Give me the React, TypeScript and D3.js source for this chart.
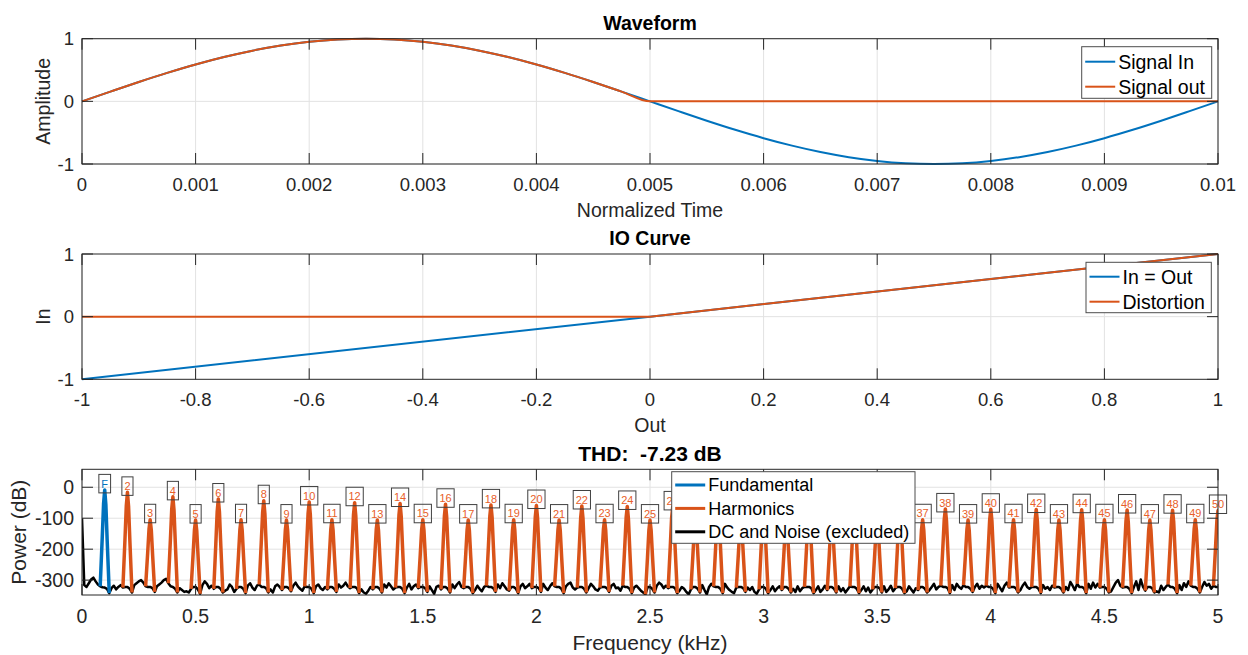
import React, { useEffect, useRef } from "react";
import * as d3 from "d3";

const BLUE = "#0072BD";
const ORANGE = "#D95319";
const AXIS = "#262626";
const GRID = "#e2e2e2";
const FONT = "'Liberation Sans', Arial, Helvetica, sans-serif";

// ---- Waveform (one period, sampled every 0.25 ms) ----
const waveStep = 0.00025;
const signalIn = [
  0, 0.156, 0.309, 0.454, 0.588, 0.707, 0.809, 0.891, 0.951, 0.988, 1,
  0.988, 0.951, 0.891, 0.809, 0.707, 0.588, 0.454, 0.309, 0.156, 0,
  -0.156, -0.309, -0.454, -0.588, -0.707, -0.809, -0.891, -0.951, -0.988, -1,
  -0.988, -0.951, -0.891, -0.809, -0.707, -0.588, -0.454, -0.309, -0.156, 0,
];
const signalOut = [
  0, 0.156, 0.309, 0.454, 0.588, 0.707, 0.809, 0.891, 0.951, 0.988, 1,
  0.988, 0.951, 0.891, 0.809, 0.707, 0.588, 0.454, 0.309, 0.156, 0,
  0, 0, 0, 0, 0, 0, 0, 0, 0, 0, 0, 0, 0, 0, 0, 0, 0, 0, 0, 0,
];
const waveTicksX = [0, 0.001, 0.002, 0.003, 0.004, 0.005, 0.006, 0.007, 0.008, 0.009, 0.01];
const unitTicksY = [-1, 0, 1];

// ---- IO curve ----
const ioOut = [-1, 0, 1];
const ioLinear = [-1, 0, 1];
const ioDistortion = [0, 0, 1];
const ioTicksX = [-1, -0.8, -0.6, -0.4, -0.2, 0, 0.2, 0.4, 0.6, 0.8, 1];

// ---- Spectrum ----
const noiseStep = 0.01; // kHz
const noiseFloor = [
  -100, -316, -322, -310, -298, -292, -304, -314, -320, -323,
  -324, -328, -342, -326, -318, -330, -322, -316, -324, -322,
  -322, -328, -340, -316, -310, -304, -300, -308, -320, -322,
  -322, -326, -338, -320, -314, -308, -300, -296, -310, -320,
  -322, -328, -340, -326, -332, -338, -336, -340, -328, -322,
  -322, -330, -344, -316, -304, -312, -326, -318, -328, -322,
  -322, -328, -340, -334, -330, -314, -322, -338, -328, -322,
  -322, -328, -342, -318, -310, -324, -332, -318, -314, -322,
  -322, -326, -340, -330, -340, -320, -314, -322, -332, -322,
  -322, -326, -336, -318, -308, -320, -328, -334, -320, -322,
  -322, -328, -342, -320, -314, -326, -332, -322, -330, -322,
  -322, -328, -338, -314, -324, -318, -308, -320, -326, -322,
  -322, -326, -342, -330, -340, -344, -334, -322, -330, -322,
  -322, -328, -340, -314, -324, -310, -320, -330, -324, -322,
  -322, -328, -342, -324, -312, -330, -320, -314, -326, -322,
  -322, -326, -338, -320, -332, -344, -322, -318, -330, -322,
  -322, -328, -340, -314, -326, -314, -306, -322, -326, -322,
  -322, -328, -342, -332, -318, -328, -336, -322, -318, -322,
  -322, -326, -338, -314, -326, -310, -320, -330, -334, -322,
  -322, -328, -342, -320, -312, -326, -320, -312, -326, -322,
  -322, -326, -338, -312, -324, -332, -320, -310, -320, -322,
  -322, -328, -342, -320, -312, -308, -324, -330, -324, -322,
  -322, -328, -340, -326, -312, -320, -330, -334, -324, -322,
  -322, -326, -338, -318, -312, -326, -324, -334, -318, -322,
  -322, -328, -342, -324, -318, -326, -334, -340, -346, -322,
  -322, -328, -340, -318, -308, -314, -326, -318, -326, -322,
  -322, -326, -342, -334, -322, -328, -338, -346, -330, -322,
  -322, -328, -340, -316, -332, -346, -322, -312, -320, -322,
  -322, -328, -342, -312, -324, -332, -338, -342, -324, -322,
  -322, -326, -338, -324, -332, -322, -338, -344, -330, -322,
  -322, -328, -342, -332, -320, -336, -326, -320, -332, -322,
  -322, -328, -340, -328, -338, -320, -336, -326, -322, -322,
  -322, -326, -342, -332, -320, -338, -330, -318, -332, -322,
  -322, -328, -340, -320, -336, -326, -340, -330, -320, -322,
  -322, -328, -342, -332, -320, -336, -324, -340, -330, -322,
  -322, -326, -340, -320, -338, -330, -318, -336, -326, -322,
  -322, -328, -342, -336, -320, -330, -340, -326, -332, -322,
  -322, -328, -340, -332, -322, -312, -330, -322, -318, -322,
  -322, -326, -342, -316, -332, -312, -322, -328, -316, -322,
  -322, -328, -338, -322, -312, -328, -318, -324, -318, -322,
  -322, -328, -342, -312, -324, -336, -318, -308, -324, -322,
  -322, -326, -340, -332, -318, -308, -322, -328, -322, -322,
  -322, -328, -342, -316, -328, -322, -332, -318, -324, -322,
  -322, -328, -340, -322, -332, -306, -318, -332, -312, -322,
  -322, -326, -342, -312, -328, -308, -324, -312, -324, -322,
  -322, -328, -340, -336, -322, -308, -300, -318, -324, -322,
  -322, -328, -342, -322, -304, -332, -298, -322, -334, -322,
  -322, -326, -340, -336, -340, -318, -332, -322, -314, -322,
  -322, -328, -342, -316, -332, -310, -322, -304, -318, -322,
  -322, -328, -340, -322, -306, -318, -312, -328, -318, -322,
  -322,
];
const fundamentalFreq = 0.1; // kHz
const fundamentalPeak = -8.5; // dB
const harmonicOrders = [
  2, 3, 4, 5, 6, 7, 8, 9, 10, 11, 12, 13, 14, 15, 16, 17, 18, 19, 20, 21, 22, 23, 24, 25, 26,
  27, 28, 29, 30, 31, 32, 33, 34, 35, 36, 37, 38, 39, 40, 41, 42, 43, 44, 45, 46, 47, 48, 49, 50,
];
const harmonicPeaks = [
  -16.5, -105, -31, -106, -38, -105, -43.5, -106, -47.5, -105, -50, -106, -52.5, -105, -55, -106,
  -57, -105, -59, -106, -60.5, -105, -62, -106, -63.5, -105, -65, -106, -66, -105, -67, -106,
  -68, -105, -69, -105, -70, -106, -71, -105, -72, -106, -72.5, -105, -73.5, -106, -74, -105, -75,
];
// spike outline around each bin: offset (kHz) and fraction of rise from floor to peak
const spikeOffsets = [-0.02, -0.011, -0.005, 0, 0.005, 0.011, 0.02];
const spikeRise = [0, 0.5, 0.86, 1, 0.86, 0.5, 0];
const specTicksX = [0, 0.5, 1, 1.5, 2, 2.5, 3, 3.5, 4, 4.5, 5];
const specTicksY = [-300, -200, -100, 0];

type Box = { l: number; r: number; t: number; b: number };

export default function App() {
  const ref = useRef<SVGSVGElement>(null);

  useEffect(() => {
    const svg = d3.select(ref.current);
    svg.selectAll("*").remove();
    svg.attr("font-family", FONT);

    const grid = (x: any, y: any, box: Box, xt: number[], yt: number[]) => {
      const g = svg.append("g").attr("stroke", GRID).attr("stroke-width", 1);
      g.selectAll(".gx").data(xt).join("line")
        .attr("x1", (d) => x(d)).attr("x2", (d) => x(d)).attr("y1", box.t).attr("y2", box.b);
      g.selectAll(".gy").data(yt).join("line")
        .attr("y1", (d) => y(d)).attr("y2", (d) => y(d)).attr("x1", box.l).attr("x2", box.r);
    };

    const frame = (x: any, y: any, box: Box, xt: number[], yt: number[], fs: number, xOff: number) => {
      const g = svg.append("g");
      const tl = 11;
      const t = g.append("g").attr("stroke", AXIS).attr("stroke-width", 1);
      xt.forEach((d) => {
        t.append("line").attr("x1", x(d)).attr("x2", x(d)).attr("y1", box.b).attr("y2", box.b - tl);
        t.append("line").attr("x1", x(d)).attr("x2", x(d)).attr("y1", box.t).attr("y2", box.t + tl);
      });
      yt.forEach((d) => {
        t.append("line").attr("y1", y(d)).attr("y2", y(d)).attr("x1", box.l).attr("x2", box.l + tl);
        t.append("line").attr("y1", y(d)).attr("y2", y(d)).attr("x1", box.r).attr("x2", box.r - tl);
      });
      g.append("rect").attr("x", box.l).attr("y", box.t)
        .attr("width", box.r - box.l).attr("height", box.b - box.t)
        .attr("fill", "none").attr("stroke", AXIS).attr("stroke-width", 1);
      g.selectAll(".xl").data(xt).join("text")
        .attr("x", (d) => x(d)).attr("y", box.b + xOff)
        .attr("text-anchor", "middle").attr("font-size", fs).attr("fill", AXIS)
        .text((d) => String(d));
      g.selectAll(".yl").data(yt).join("text")
        .attr("x", box.l - 8).attr("y", (d) => y(d)).attr("dy", "0.36em")
        .attr("text-anchor", "end").attr("font-size", fs).attr("fill", AXIS)
        .text((d) => String(d));
    };

    const labels = (box: Box, title: string, xLabel: string, yLabel: string,
      fs: number, titleY: number, xLabelY: number, yLabelX: number) => {
      const cx = (box.l + box.r) / 2;
      const cy = (box.t + box.b) / 2;
      svg.append("text").attr("x", cx).attr("y", titleY).attr("text-anchor", "middle")
        .attr("font-size", fs).attr("font-weight", "bold").attr("fill", "#000")
        .style("white-space", "pre").text(title);
      svg.append("text").attr("x", cx).attr("y", xLabelY).attr("text-anchor", "middle")
        .attr("font-size", fs).attr("fill", AXIS).text(xLabel);
      svg.append("text").attr("transform", `translate(${yLabelX},${cy}) rotate(-90)`)
        .attr("text-anchor", "middle").attr("font-size", fs).attr("fill", AXIS).text(yLabel);
    };

    const legend = (lx: number, ly: number, w: number, h: number,
      items: { name: string; color: string }[], fs: number, row0: number, rowH: number, lw: number) => {
      const g = svg.append("g");
      g.append("rect").attr("x", lx).attr("y", ly).attr("width", w).attr("height", h)
        .attr("fill", "#fff").attr("stroke", "#4d4d4d").attr("stroke-width", 1);
      items.forEach((it, i) => {
        const yy = row0 + i * rowH;
        g.append("line").attr("x1", lx + 3.5).attr("x2", lx + 33.5).attr("y1", yy).attr("y2", yy)
          .attr("stroke", it.color).attr("stroke-width", lw);
        g.append("text").attr("x", lx + 36.5).attr("y", yy).attr("dy", "0.36em")
          .attr("font-size", fs).attr("fill", "#000").text(it.name);
      });
    };

    // ===== Panel 1: Waveform =====
    const b1: Box = { l: 82, r: 1218, t: 38.7, b: 164 };
    const x1 = d3.scaleLinear().domain([0, 0.01]).range([b1.l, b1.r]);
    const y1 = d3.scaleLinear().domain([-1, 1]).range([b1.b, b1.t]);
    grid(x1, y1, b1, waveTicksX, unitTicksY);
    const wave = d3.line<number>().x((_, i) => x1(i * waveStep)).y((d) => y1(d)).curve(d3.curveMonotoneX);
    svg.append("path").attr("d", wave(signalIn)).attr("fill", "none").attr("stroke", BLUE).attr("stroke-width", 2);
    svg.append("path").attr("d", wave(signalOut)).attr("fill", "none").attr("stroke", ORANGE).attr("stroke-width", 2);
    frame(x1, y1, b1, waveTicksX, unitTicksY, 18.5, 27);
    labels(b1, "Waveform", "Normalized Time", "Amplitude", 19.5, 30, 216.5, 50);
    legend(1081.7, 46.7, 130, 51.6,
      [{ name: "Signal In", color: BLUE }, { name: "Signal out", color: ORANGE }], 19.5, 61.7, 25, 2);

    // ===== Panel 2: IO Curve =====
    const b2: Box = { l: 82, r: 1218, t: 254, b: 379.3 };
    const x2 = d3.scaleLinear().domain([-1, 1]).range([b2.l, b2.r]);
    const y2 = d3.scaleLinear().domain([-1, 1]).range([b2.b, b2.t]);
    grid(x2, y2, b2, ioTicksX, [0]);
    const io = d3.line<number>().x((_, i) => x2(ioOut[i])).y((d) => y2(d));
    svg.append("path").attr("d", io(ioLinear)).attr("fill", "none").attr("stroke", BLUE).attr("stroke-width", 2);
    svg.append("path").attr("d", io(ioDistortion)).attr("fill", "none").attr("stroke", ORANGE).attr("stroke-width", 2);
    frame(x2, y2, b2, ioTicksX, unitTicksY, 18.5, 27);
    labels(b2, "IO Curve", "Out", "In", 19.5, 245, 431.5, 50);
    legend(1086, 262.3, 125.3, 50.4,
      [{ name: "In = Out", color: BLUE }, { name: "Distortion", color: ORANGE }], 19.5, 276.7, 25, 2);

    // ===== Panel 3: Spectrum =====
    const b3: Box = { l: 82, r: 1218, t: 469.3, b: 595 };
    const x3 = d3.scaleLinear().domain([0, 5]).range([b3.l, b3.r]);
    const y3 = d3.scaleLinear().domain([-348, 58]).range([b3.b, b3.t]);
    grid(x3, y3, b3, specTicksX, specTicksY);

    svg.append("clipPath").attr("id", "spec-clip").append("rect")
      .attr("x", b3.l).attr("y", b3.t).attr("width", b3.r - b3.l).attr("height", b3.b - b3.t);
    const plot = svg.append("g").attr("clip-path", "url(#spec-clip)");

    const noiseLine = d3.line<number>().x((_, i) => x3(i * noiseStep)).y((d) => y3(d));
    plot.append("path").attr("d", noiseLine(noiseFloor)).attr("fill", "none")
      .attr("stroke", "#000").attr("stroke-width", 2.5).attr("stroke-linejoin", "round");

    const floorAt = (f: number) => noiseFloor[Math.round(f / noiseStep)] ?? -322;
    const spike = (f: number, peak: number) => {
      const left = floorAt(f - 0.02);
      const right = floorAt(f + 0.02);
      return spikeOffsets.map((o, i) => {
        const base = o < 0 ? left : o > 0 ? right : peak;
        return [f + o, base + spikeRise[i] * (peak - base)] as [number, number];
      });
    };
    const spikeLine = d3.line<[number, number]>().x((d) => x3(d[0])).y((d) => y3(d[1]));

    plot.append("path").attr("d", spikeLine(spike(fundamentalFreq, fundamentalPeak)))
      .attr("fill", "none").attr("stroke", BLUE).attr("stroke-width", 3.5).attr("stroke-linejoin", "round");
    const harmonics = harmonicOrders.map((n, i) => ({ n, f: n * fundamentalFreq, p: harmonicPeaks[i] }));
    plot.selectAll(".h").data(harmonics).join("path")
      .attr("d", (d) => spikeLine(spike(d.f, d.p)))
      .attr("fill", "none").attr("stroke", ORANGE).attr("stroke-width", 3.5).attr("stroke-linejoin", "round");

    // peak labels (the legend is drawn over some of them, as in the original)
    const tags = [{ label: "F", f: fundamentalFreq, p: fundamentalPeak, c: BLUE }]
      .concat(harmonics.map((h) => ({ label: String(h.n), f: h.f, p: h.p, c: "#E8602A" })));
    const tg = svg.append("g");
    tags.forEach((d) => {
      const cx = x3(d.f);
      const bottom = y3(d.p) + 3;
      const h = 18.5;
      const txt = tg.append("text").attr("x", cx).attr("y", bottom - h / 2).attr("dy", "0.36em")
        .attr("text-anchor", "middle").attr("font-size", 11).attr("fill", d.c).text(d.label);
      const w = (txt.node() as SVGTextElement).getComputedTextLength() + 5;
      tg.insert("rect", "text").attr("x", cx - w / 2).attr("y", bottom - h).attr("width", w).attr("height", h)
        .attr("fill", "none").attr("stroke", "#404040").attr("stroke-width", 1);
    });

    frame(x3, y3, b3, specTicksX, specTicksY, 19.5, 28);
    labels(b3, "THD:  -7.23 dB", "Frequency (kHz)", "Power (dB)", 21, 461, 650, 26);
    legend(671.7, 471.7, 243.3, 71.6, [
      { name: "Fundamental", color: BLUE },
      { name: "Harmonics", color: ORANGE },
      { name: "DC and Noise (excluded)", color: "#000" },
    ], 18, 485, 23.4, 3);
  }, []);

  return (
    <svg ref={ref} width={1248} height={655}
      style={{ position: "absolute", left: 0, top: 0, background: "#fff" }} />
  );
}
